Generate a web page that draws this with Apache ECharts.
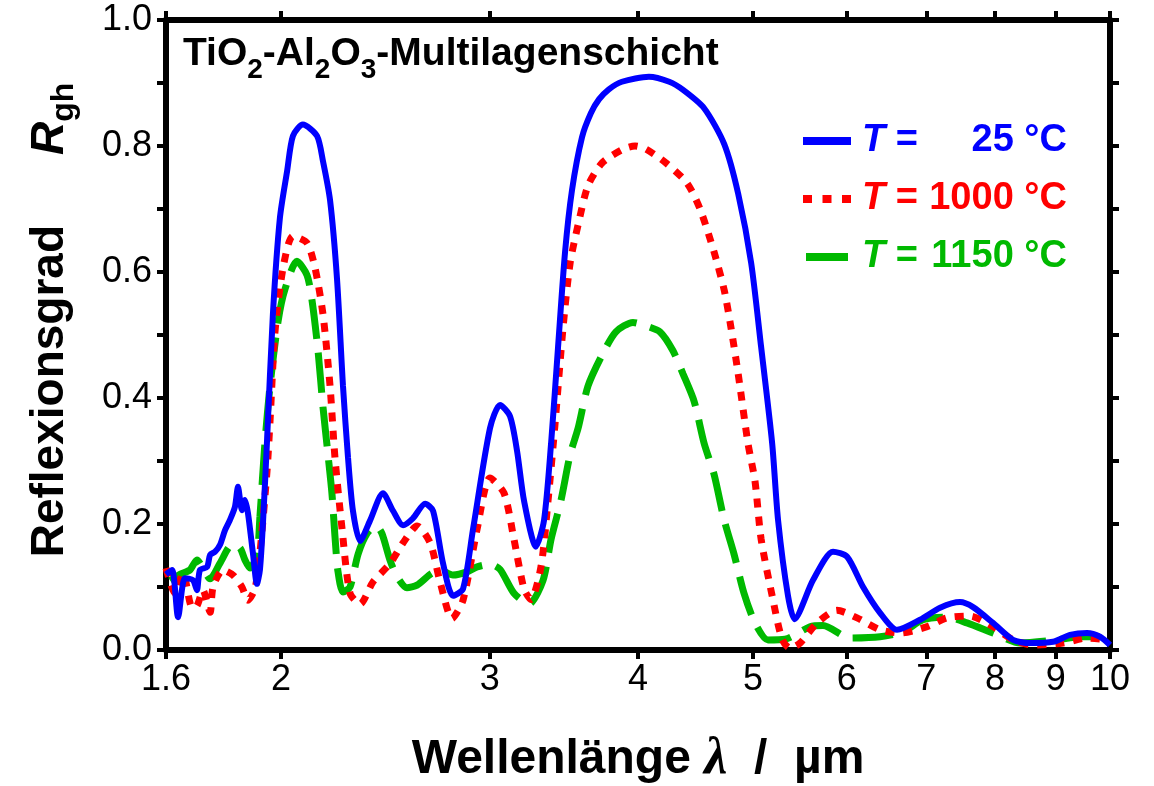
<!DOCTYPE html>
<html>
<head>
<meta charset="utf-8">
<title>Reflexionsgrad TiO2-Al2O3-Multilagenschicht</title>
<script src="https://cdn.jsdelivr.net/npm/echarts@6/dist/echarts.min.js"></script>
<style>
  html, body { margin: 0; padding: 0; background: #fff; }
  #chart { width: 1154px; height: 786px; }
</style>
</head>
<body>
<div id="chart"></div>
<script>
// Wavelength axis ticks (µm)
const tickValues = [1.6, 2, 3, 4, 5, 6, 7, 8, 9, 10];
const tickLabels = ['1.6', '2', '3', '4', '5', '6', '7', '8', '9', '10'];

// Annealing temperatures (°C)
const temperatures = [25, 1000, 1150];

// T = 25 °C
const lambda25 = [
  1.600, 1.619, 1.638, 1.660, 1.686, 1.699, 1.709, 1.733, 1.743, 1.760,
  1.777, 1.794, 1.811, 1.829, 1.840, 1.854, 1.865, 1.876, 1.894, 1.909,
  1.920, 1.932, 1.947, 1.969, 1.996, 2.024, 2.047, 2.087, 2.145, 2.170,
  2.200, 2.230, 2.256, 2.278, 2.300, 2.332, 2.377, 2.438, 2.486, 2.535,
  2.584, 2.646, 2.687, 2.740, 2.793, 2.848, 2.904, 3.001, 3.060, 3.120,
  3.163, 3.206, 3.281, 3.333, 3.379, 3.425, 3.472, 3.519, 3.588, 3.650,
  3.708, 3.780, 3.877, 4.086, 4.250, 4.366, 4.548, 4.729, 4.859, 4.983,
  5.080, 5.190, 5.250, 5.352, 5.420, 5.619, 5.841, 6.003, 6.192, 6.399,
  6.614, 6.916, 7.190, 7.474, 7.666, 7.968, 8.284, 8.561, 8.953, 9.254,
  9.564, 9.809, 10.000
];
const refl25 = [
  0.120, 0.127, 0.052, 0.114, 0.111, 0.095, 0.127, 0.132, 0.151, 0.156,
  0.167, 0.190, 0.206, 0.227, 0.259, 0.222, 0.238, 0.217, 0.154, 0.105,
  0.127, 0.206, 0.335, 0.533, 0.686, 0.760, 0.816, 0.834, 0.816, 0.776,
  0.714, 0.589, 0.419, 0.306, 0.221, 0.173, 0.205, 0.249, 0.221, 0.198,
  0.209, 0.232, 0.221, 0.137, 0.086, 0.097, 0.192, 0.352, 0.389, 0.371,
  0.316, 0.237, 0.164, 0.206, 0.328, 0.481, 0.632, 0.730, 0.814, 0.852,
  0.874, 0.890, 0.902, 0.910, 0.902, 0.889, 0.860, 0.803, 0.724, 0.614,
  0.481, 0.328, 0.206, 0.086, 0.049, 0.111, 0.156, 0.148, 0.100, 0.059,
  0.032, 0.048, 0.067, 0.076, 0.068, 0.043, 0.016, 0.011, 0.013, 0.024,
  0.027, 0.021, 0.008
];

// T = 1000 °C
const lambda1000 = [
  1.600, 1.628, 1.654, 1.683, 1.699, 1.719, 1.743, 1.753, 1.787, 1.822,
  1.854, 1.876, 1.902, 1.920, 1.947, 1.958, 1.977, 2.008, 2.047, 2.104,
  2.137, 2.170, 2.200, 2.221, 2.252, 2.287, 2.332, 2.391, 2.471, 2.535,
  2.605, 2.672, 2.724, 2.788, 2.848, 2.927, 3.001, 3.084, 3.144, 3.206,
  3.249, 3.314, 3.359, 3.405, 3.458, 3.506, 3.561, 3.630, 3.730, 3.877,
  3.977, 4.063, 4.224, 4.400, 4.512, 4.636, 4.729, 4.792, 4.859, 4.952,
  5.020, 5.080, 5.190, 5.291, 5.373, 5.478, 5.663, 5.886, 6.120, 6.399,
  6.653, 7.011, 7.287, 7.620, 7.968, 8.284, 8.612, 9.129, 9.564, 9.943
];
const refl1000 = [
  0.130, 0.090, 0.122, 0.068, 0.070, 0.095, 0.060, 0.100, 0.127, 0.119,
  0.100, 0.079, 0.098, 0.154, 0.286, 0.363, 0.505, 0.606, 0.657, 0.646,
  0.606, 0.533, 0.419, 0.306, 0.192, 0.090, 0.073, 0.108, 0.137, 0.170,
  0.197, 0.170, 0.108, 0.050, 0.079, 0.192, 0.273, 0.249, 0.176, 0.097,
  0.080, 0.133, 0.237, 0.359, 0.511, 0.614, 0.675, 0.737, 0.773, 0.794,
  0.800, 0.795, 0.773, 0.741, 0.700, 0.632, 0.571, 0.511, 0.438, 0.328,
  0.268, 0.176, 0.086, 0.017, 0.003, 0.011, 0.043, 0.063, 0.051, 0.032,
  0.027, 0.037, 0.051, 0.054, 0.037, 0.016, 0.008, 0.011, 0.019, 0.016
];

// T = 1150 °C
const lambda1150 = [
  1.613, 1.644, 1.676, 1.699, 1.719, 1.743, 1.777, 1.819, 1.847, 1.865,
  1.883, 1.909, 1.920, 1.939, 1.958, 1.989, 2.016, 2.063, 2.104, 2.124,
  2.149, 2.170, 2.191, 2.208, 2.221, 2.234, 2.256, 2.287, 2.323, 2.364,
  2.405, 2.433, 2.471, 2.505, 2.554, 2.605, 2.672, 2.724, 2.793, 2.870,
  2.927, 3.001, 3.060, 3.144, 3.237, 3.326, 3.379, 3.444, 3.506, 3.561,
  3.630, 3.730, 3.832, 3.961, 4.054, 4.174, 4.281, 4.366, 4.460, 4.548,
  4.636, 4.729, 4.820, 4.914, 5.020, 5.148, 5.321, 5.586, 5.728, 6.037,
  6.399, 6.692, 6.956, 7.287, 7.576, 7.968, 8.397, 9.022, 9.434, 9.961
];
const refl1150 = [
  0.110, 0.120, 0.127, 0.143, 0.130, 0.113, 0.138, 0.167, 0.162, 0.143,
  0.130, 0.150, 0.211, 0.330, 0.419, 0.522, 0.573, 0.617, 0.595, 0.556,
  0.476, 0.386, 0.311, 0.249, 0.181, 0.125, 0.092, 0.100, 0.152, 0.185,
  0.197, 0.185, 0.143, 0.117, 0.099, 0.103, 0.120, 0.127, 0.119, 0.124,
  0.132, 0.136, 0.128, 0.090, 0.073, 0.110, 0.176, 0.237, 0.310, 0.352,
  0.419, 0.468, 0.505, 0.520, 0.515, 0.505, 0.475, 0.438, 0.395, 0.328,
  0.279, 0.206, 0.152, 0.090, 0.043, 0.016, 0.017, 0.037, 0.039, 0.019,
  0.021, 0.029, 0.048, 0.052, 0.043, 0.027, 0.011, 0.016, 0.021, 0.021
];

const FONT = '"Liberation Sans", Arial, Helvetica, sans-serif';
const colors = ['#0000ff', '#ff0000', '#00b900'];

// the wavelength axis is logarithmic: positions are log10(λ)
const toLog = v => Math.log10(v);
const pairs = (lam, r) => lam.map((l, i) => [toLog(l), r[i]]);
const tickPositions = tickValues.map(toLog);
const xMin = toLog(tickValues[0]);
const xMax = toLog(tickValues[tickValues.length - 1]);

function tickText(v) {
  const i = tickPositions.findIndex(p => Math.abs(p - v) < 1e-6);
  return i >= 0 ? tickLabels[i] : '';
}

const axisLine = { show: true, onZero: false, lineStyle: { color: '#000', width: 6 } };
const tickStyle = { color: '#000', width: 4 };

// legend text styles, one set per temperature colour
const legendRich = {};
colors.forEach((c, i) => {
  legendRich['t' + i] = { color: c, fontFamily: FONT, fontSize: 38, fontWeight: 'bold', fontStyle: 'italic', padding: [0, 0, 0, 6] };
  legendRich['e' + i] = { color: c, fontFamily: FONT, fontSize: 38, fontWeight: 'bold' };
  legendRich['v' + i] = { color: c, fontFamily: FONT, fontSize: 38, fontWeight: 'bold', width: 149, align: 'right' };
});

const legendIcons = [
  'path://M0,0h48v8h-48z',
  'path://M0,0h9v8h-9zM19.5,0h9v8h-9zM39,0h9v8h-9z',
  'path://M0,0h42v8h-42z'
];

const chart = echarts.init(document.getElementById('chart'), null, { renderer: 'canvas' });

const option = {
  animation: false,
  backgroundColor: '#ffffff',
  title: {
    text: '{b|TiO}{s|2}{b|-Al}{s|2}{b|O}{s|3}{b|-Multilagenschicht}',
    left: 178,
    top: 19,
    textStyle: {
      rich: {
        b: { fontFamily: FONT, fontSize: 39, fontWeight: 'bold', color: '#000', lineHeight: 60 },
        s: { fontFamily: FONT, fontSize: 28, fontWeight: 'bold', color: '#000', lineHeight: 28, verticalAlign: 'bottom' }
      }
    }
  },
  legend: {
    orient: 'vertical',
    left: 798,
    top: 114,
    itemWidth: 48,
    itemHeight: 8,
    itemGap: 14,
    selectedMode: false,
    itemStyle: { borderWidth: 0 },
    data: temperatures.map((t, i) => ({ name: String(t), icon: legendIcons[i] })),
    formatter: name => {
      const i = temperatures.indexOf(Number(name));
      return '{t' + i + '|T}{e' + i + '| =}{v' + i + '|' + name + ' °C}';
    },
    textStyle: { lineHeight: 44, rich: legendRich }
  },
  grid: {
    left: 166,
    right: 44,
    top: 20,
    bottom: 136,
    containLabel: false,
    outerBoundsMode: 'none'
  },
  xAxis: [
    {
      type: 'value',
      position: 'bottom',
      min: xMin,
      max: xMax,
      axisLine: axisLine,
      splitLine: { show: false },
      axisTick: { show: true, inside: false, length: 9, lineStyle: tickStyle, customValues: tickPositions },
      axisLabel: {
        show: true,
        margin: 12,
        customValues: tickPositions,
        formatter: tickText,
        fontFamily: FONT,
        fontSize: 36,
        color: '#000'
      },
      name: '{a|Wellenlänge }{l|λ}{a|  /  µm}',
      nameLocation: 'middle',
      nameGap: 84,
      nameMoveOverlap: false,
      nameTextStyle: {
        rich: {
          a: { fontFamily: FONT, fontSize: 48, fontWeight: 'bold', color: '#000' },
          l: { fontFamily: '"Liberation Serif", "DejaVu Serif", serif', fontSize: 52, fontWeight: 'bold', fontStyle: 'italic', color: '#000' }
        }
      }
    },
    {
      type: 'value',
      position: 'top',
      min: xMin,
      max: xMax,
      axisLine: axisLine,
      splitLine: { show: false },
      axisTick: { show: true, inside: false, length: 9, lineStyle: tickStyle, customValues: tickPositions },
      axisLabel: { show: false }
    }
  ],
  yAxis: [
    {
      type: 'value',
      position: 'left',
      min: 0,
      max: 1,
      interval: 0.2,
      axisLine: axisLine,
      splitLine: { show: false },
      axisTick: { show: true, inside: false, length: 9, lineStyle: tickStyle },
      minorTick: { show: true, splitNumber: 2, length: 9, lineStyle: tickStyle },
      minorSplitLine: { show: false },
      axisLabel: {
        margin: 14,
        formatter: v => v.toFixed(1),
        fontFamily: FONT,
        fontSize: 36,
        color: '#000'
      },
      name: '{p|}{a|Reflexionsgrad}{g|}{r|R}{s|gh}',
      nameLocation: 'middle',
      nameRotate: 90,
      nameGap: 86,
      nameMoveOverlap: false,
      nameTextStyle: {
        rich: {
          p: { width: 30 },
          a: { fontFamily: FONT, fontSize: 46, fontWeight: 'bold', color: '#000', lineHeight: 60 },
          g: { width: 70 },
          r: { fontFamily: FONT, fontSize: 46, fontWeight: 'bold', fontStyle: 'italic', color: '#000', lineHeight: 60 },
          s: { fontFamily: FONT, fontSize: 32, fontWeight: 'bold', color: '#000', lineHeight: 32, verticalAlign: 'bottom' }
        }
      }
    },
    {
      type: 'value',
      position: 'right',
      min: 0,
      max: 1,
      interval: 0.2,
      axisLine: axisLine,
      splitLine: { show: false },
      axisTick: { show: true, inside: false, length: 9, lineStyle: tickStyle },
      minorTick: { show: true, splitNumber: 2, length: 9, lineStyle: tickStyle },
      minorSplitLine: { show: false },
      axisLabel: { show: false }
    }
  ],
  series: [
    {
      name: String(temperatures[0]),
      type: 'line',
      data: pairs(lambda25, refl25),
      showSymbol: false,
      symbol: 'none',
      smooth: 0.25,
      color: colors[0],
      lineStyle: { color: colors[0], width: 6, type: 'solid' },
      z: 4
    },
    {
      name: String(temperatures[1]),
      type: 'line',
      data: pairs(lambda1000, refl1000),
      showSymbol: false,
      symbol: 'none',
      smooth: 0.25,
      color: colors[1],
      lineStyle: { color: colors[1], width: 7, type: [9, 9], cap: 'butt' },
      z: 3
    },
    {
      name: String(temperatures[2]),
      type: 'line',
      data: pairs(lambda1150, refl1150),
      showSymbol: false,
      symbol: 'none',
      smooth: 0.25,
      color: colors[2],
      lineStyle: { color: colors[2], width: 7, type: [40, 14], cap: 'butt' },
      z: 2
    }
  ]
};

chart.setOption(option);
</script>
</body>
</html>
